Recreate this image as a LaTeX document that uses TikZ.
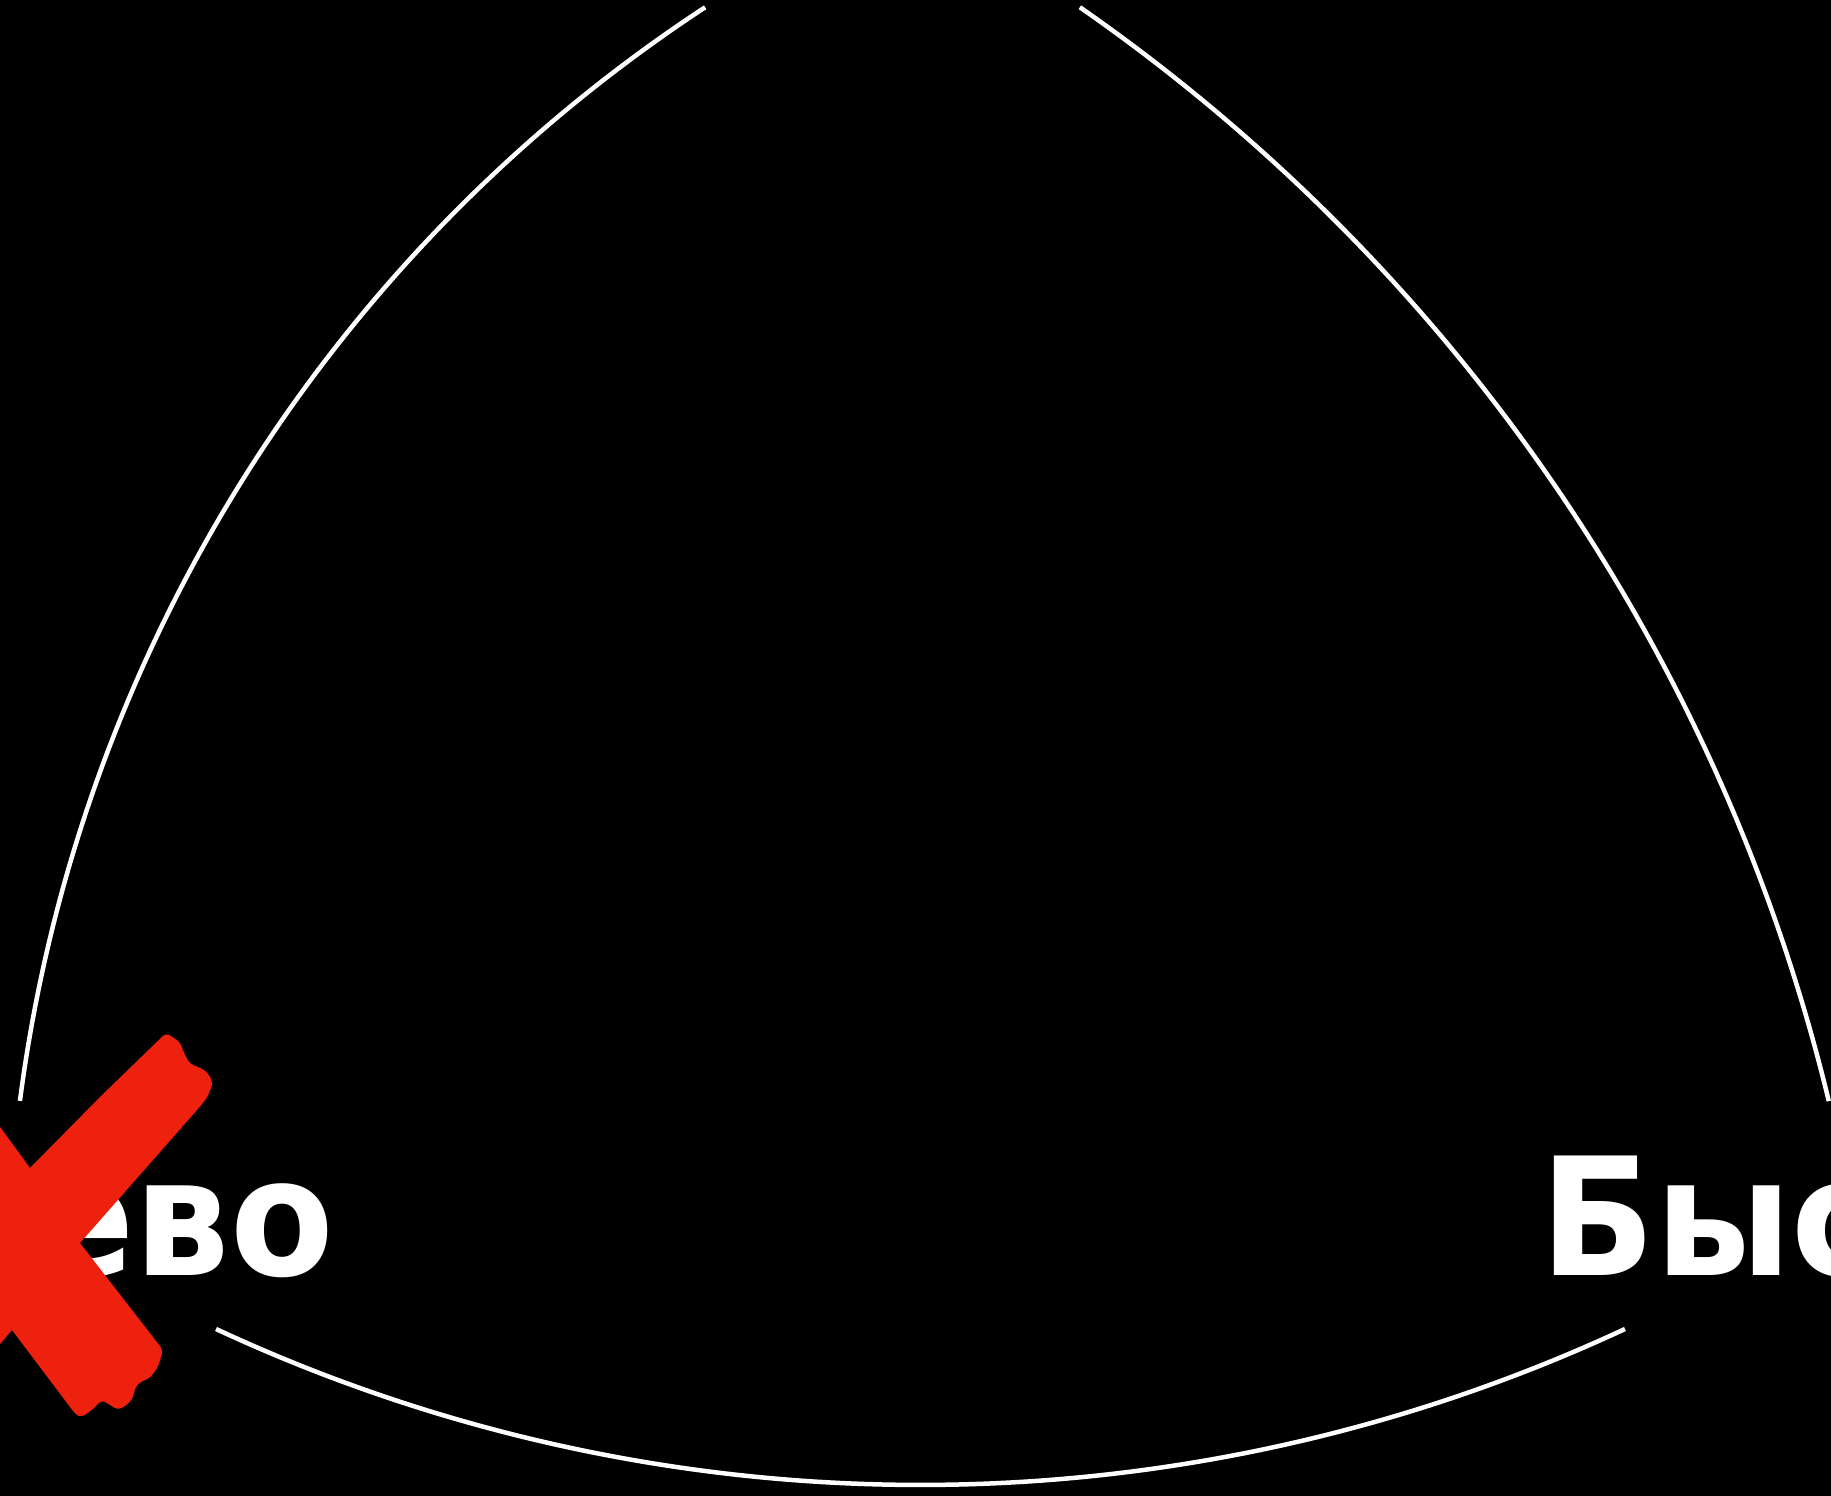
\documentclass[tikz,border=0pt]{standalone}
\usepackage{fontspec}
\setmainfont{DejaVu Sans}
\definecolor{xred}{RGB}{237,33,14}
\begin{document}
\begin{tikzpicture}[x=1pt,y=1pt,
  arcline/.style={draw=white,line width=4.5pt},
  lbl/.style={text=white,inner sep=0pt,xscale=0.92,transform shape,font=\fontsize{164}{196}\selectfont\bfseries},
  crossmark/.style={fill=xred}]
\useasboundingbox (0,0) rectangle (1831,1496);
\fill[black] (0,0) rectangle (1831,1496);
\clip (0,0) rectangle (1831,1496);
% arc centres
\coordinate (cL) at (1553,196);
\coordinate (cR) at (16,-43);
\coordinate (cB) at (920.5,1679.8);
\draw[arcline] (cL) ++(172.6:1546) arc[start angle=172.6,end angle=123.26,radius=1546];
\draw[arcline] (cR) ++(55.22:1865) arc[start angle=55.22,end angle=13.58,radius=1865];
\draw[arcline] (cB) ++(245.03:1668.8) arc[start angle=245.03,end angle=294.97,radius=1668.8];
% labels
\node[lbl,anchor=base east] (cheap) at (334,220) {Дешево};
\node[lbl,anchor=base west] (fast) at (1540,220) {Быстро};
% red cross
\fill[crossmark] (100,399) [rounded corners=4pt] -- (166,463) -- (180,454) -- (184,443) -- (190,432) -- (201,428) -- (208,423) -- (213,413) -- (207,398) -- (197,386) [sharp corners] -- (80,253)
  [rounded corners=4pt] -- (163,146) -- (158,129) -- (150,118) -- (140,114) -- (135,108) -- (133,98) -- (127,91) -- (118,86) -- (102,96) -- (92,86) -- (82,79) -- (76,81) -- (67,93) [sharp corners] -- (12,166)
  -- (-5,146) -- (-5,376) -- (30,328) -- cycle;
\end{tikzpicture}
\end{document}
